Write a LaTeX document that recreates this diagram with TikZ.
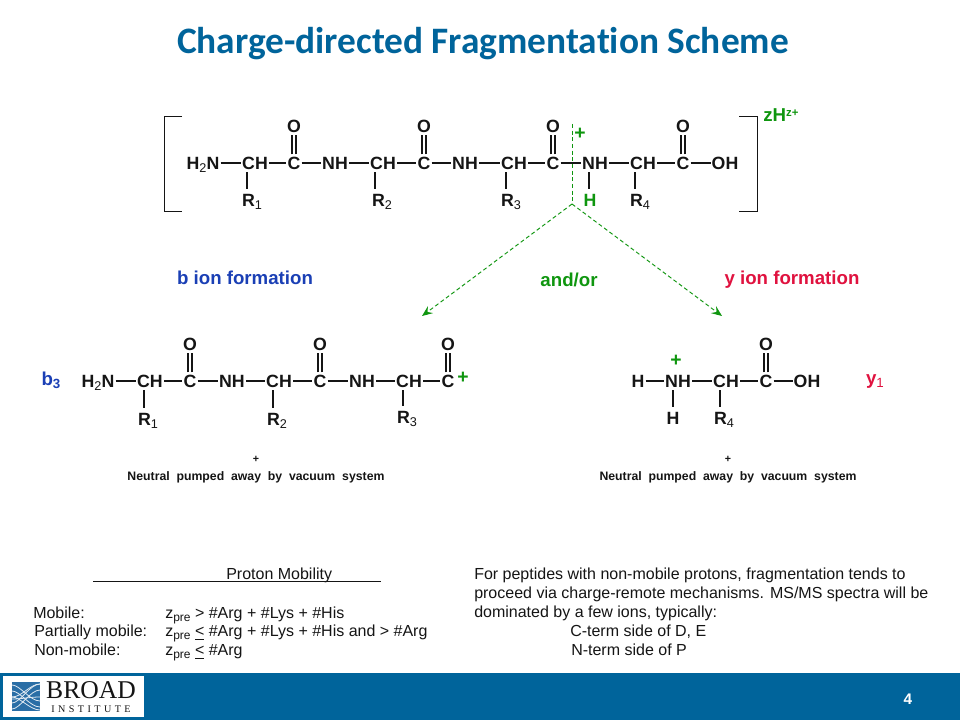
\documentclass[tikz,border=0pt]{standalone}
\usepackage{fontspec}
\setmainfont{Liberation Sans}
\newfontfamily\titlefont[Ligatures=CommonOff]{Carlito}
\newfontfamily\logofont{Liberation Serif}
\newfontfamily\logospaced[LetterSpace=34]{Liberation Serif}
\usetikzlibrary{arrows.meta}
\definecolor{brandblue}{HTML}{00649B}
\definecolor{logoblue}{HTML}{2A6EA6}
\definecolor{ionblue}{HTML}{1A3FB5}
\definecolor{iongreen}{HTML}{0F960F}
\definecolor{ionred}{HTML}{E0123F}
\definecolor{inkdark}{HTML}{151515}
\newcommand{\lowidx}[1]{\raisebox{-2.4pt}{\fontsize{9.5}{10}\selectfont\mdseries #1}}
\newcommand{\zpre}{z\raisebox{-2.2pt}{\fontsize{9}{10}\selectfont pre}}
\tikzset{
  atom/.style={font=\bfseries\fontsize{13.3}{15}\selectfont,inner sep=0pt,text height=9.5pt,text depth=0pt,text=inkdark},
  gatom/.style={atom,text=iongreen},
  bondline/.style={draw=inkdark,line width=0.8pt},
  chainbond/.style={bondline,shorten <=0.7pt,shorten >=0.7pt},
  cleave/.style={draw=iongreen,line width=0.7pt,dash pattern=on 3pt off 2pt},
  cleavearrow/.style={cleave,-{Stealth[length=8pt,width=6.5pt,inset=3pt]}},
  plusmark/.style={font=\bfseries\fontsize{14.5}{15}\selectfont,inner sep=0pt,text=iongreen},
  ionhead/.style={font=\bfseries\fontsize{14}{16}\selectfont,inner sep=0pt,anchor=center,text height=10pt,text depth=3pt},
  neutral/.style={font=\bfseries\fontsize{9.2}{11}\selectfont,inner sep=0pt,text=inkdark,text height=7pt,text depth=2pt},
  tinyplus/.style={font=\bfseries\fontsize{8}{9}\selectfont,inner sep=0pt,text=inkdark},
  bodytext/.style={font=\fontsize{12}{14}\selectfont,inner sep=0pt,anchor=west,text=inkdark,text height=8.6pt,text depth=2.4pt,yshift=-2.1pt},
}
\begin{document}
\begin{tikzpicture}[x=0.75pt,y=-0.75pt]
\useasboundingbox (0,0) rectangle (960,720);
\fill[white] (0,0) rectangle (960,720);
% footer
\fill[brandblue] (0,673) rectangle (960,720);
\fill[white] (3,676) rectangle (144,717);
\fill[logoblue] (12,682) rectangle (40,711);
\begin{scope}
\clip (12,682) rectangle (40,711);
\foreach \ya/\yb in {685/701,691/707,697/710,703/684,709/690}
  \draw[white!85!logoblue,line width=0.6pt] (12,\ya) .. controls (20,\ya) and (30,\yb) .. (40,\yb);
\foreach \ya/\yb in {697/684,699/697}
  \draw[white!85!logoblue,line width=0.6pt] (12,\ya) .. controls (22,\ya) and (30,\yb) .. (40,\yb);
\end{scope}
\node[inner sep=0pt,text=inkdark,font=\logofont\fontsize{19.2}{20}\selectfont] (logoword) at (91,690) {BROAD};
\node[inner sep=0pt,text=inkdark,font=\logospaced\fontsize{7.6}{8}\selectfont] (logosub) at (91,709) {INSTITUTE};
\node[inner sep=0pt,text=white,font=\bfseries\fontsize{11.5}{13}\selectfont] (pagenum) at (908,699) {4};
% title
\node[inner sep=0pt,text=brandblue,font=\titlefont\bfseries\fontsize{28}{32}\selectfont] (title) at (483,44) {Charge-directed Fragmentation Scheme};
% top peptide
\foreach \n/\x/\t in {t1/203/H\lowidx{2}N,t2/255/CH,t3/294/C,t4/335/NH,t5/383/CH,t6/424/C,t7/465/NH,t8/514/CH,t9/553/C,t10/595/NH,t11/643/CH,t12/683/C,t13/725/OH}
  \node[atom] (\n) at (\x,163) {\t};
\foreach \n/\x in {to1/294,to2/424,to3/553,to4/683}
  \node[atom] (\n) at (\x,126) {O};
\foreach \n/\x/\t in {tr1/252/1,tr2/382/2,tr3/511/3,tr4/640/4}
  \node[atom] (\n) at (\x,200) {R\lowidx{\t}};
\node[gatom] (tH) at (590,200) {H};
\foreach \u/\v in {t1/t2,t2/t3,t3/t4,t4/t5,t5/t6,t6/t7,t7/t8,t8/t9,t9/t10,t10/t11,t11/t12,t12/t13}
  \draw[chainbond] (\u) -- (\v);
\foreach \c/\o in {t3/to1,t6/to2,t9/to3,t12/to4}{
  \draw[bondline,shorten <=1.5pt,shorten >=2pt] ([xshift=-1.5pt]\c.north) -- ([xshift=-1.5pt]\o.south);
  \draw[bondline,shorten <=1.5pt,shorten >=2pt] ([xshift=1.5pt]\c.north) -- ([xshift=1.5pt]\o.south);
}
\foreach \c/\r in {t2/tr1,t5/tr2,t8/tr3,t11/tr4}
  \draw[bondline,shorten <=2pt,shorten >=3pt] ([xshift=-6pt]\c.south) -- ([xshift=-6pt]\c.south |- \r.north);
\draw[bondline,shorten <=2pt,shorten >=3pt] ([xshift=-4.5pt]t10.south) -- ([xshift=-4.5pt]t10.south |- tH.north);
% brackets
\draw[bondline,line width=0.75pt] (182,117) -- (164,117) -- (164,212) -- (182,212);
\draw[bondline,line width=0.75pt] (739,117) -- (757,117) -- (757,212) -- (739,212);
\node[inner sep=0pt,anchor=west,text=iongreen,font=\bfseries\fontsize{14}{16}\selectfont] (zh) at (763,115) {zH\raisebox{3.6pt}{\fontsize{8.5}{9}\selectfont z+}};
\node[plusmark] (tplus) at (580,134) {+};
% cleavage
\coordinate (cut) at (572,124);
\coordinate (apex) at (572,204);
\coordinate (bend) at (422,316);
\coordinate (yend) at (722,316);
\draw[cleave] (cut) -- (apex);
\draw[cleavearrow] (apex) -- (bend);
\draw[cleavearrow] (apex) -- (yend);
% headers
\node[ionhead,text=ionblue] (bhead) at (245,280) {b ion formation};
\node[ionhead,text=iongreen] (andor) at (569,282) {and/or};
\node[ionhead,text=ionred] (yhead) at (792,280) {y ion formation};
% b ion
\foreach \n/\x/\t in {b1/98/H\lowidx{2}N,b2/150/CH,b3/190/C,b4/232/NH,b5/279/CH,b6/320/C,b7/362/NH,b8/409/CH,b9/448/C}
  \node[atom] (\n) at (\x,381) {\t};
\foreach \n/\x in {bo1/190,bo2/320,bo3/448}
  \node[atom] (\n) at (\x,344) {O};
\foreach \n/\x/\y/\t in {br1/148/419/1,br2/277/419/2,br3/407/417/3}
  \node[atom] (\n) at (\x,\y) {R\lowidx{\t}};
\foreach \u/\v in {b1/b2,b2/b3,b3/b4,b4/b5,b5/b6,b6/b7,b7/b8,b8/b9}
  \draw[chainbond] (\u) -- (\v);
\foreach \c/\o in {b3/bo1,b6/bo2,b9/bo3}{
  \draw[bondline,shorten <=1.5pt,shorten >=2pt] ([xshift=-1.5pt]\c.north) -- ([xshift=-1.5pt]\o.south);
  \draw[bondline,shorten <=1.5pt,shorten >=2pt] ([xshift=1.5pt]\c.north) -- ([xshift=1.5pt]\o.south);
}
\foreach \c/\r in {b2/br1,b5/br2,b8/br3}
  \draw[bondline,shorten <=2pt,shorten >=3pt] ([xshift=-4.5pt]\c.south) -- ([xshift=-4.5pt]\c.south |- \r.north);
\node[plusmark] (bplus) at (463,378) {+};
\node[ionhead,text=ionblue] (blabel) at (51,381) {b\raisebox{-2.4pt}{\fontsize{10}{10}\selectfont 3}};
\node[tinyplus] (bp) at (256,459) {+};
\node[neutral] (bn) at (256,477) {Neutral\ \ pumped\ \ away\ \ by\ \ vacuum\ \ system};
% y ion
\node[atom] (y0) at (638,381) {H};
\foreach \n/\x/\t in {y1/678/NH,y2/726/CH,y3/766/C,y4/807/OH}
  \node[atom] (\n) at (\x,381) {\t};
\node[atom] (yo) at (766,344) {O};
\node[atom] (yH) at (673,418) {H};
\node[atom] (yr) at (724,418) {R\lowidx{4}};
\foreach \u/\v in {y0/y1,y1/y2,y2/y3,y3/y4}
  \draw[chainbond] (\u) -- (\v);
\draw[bondline,shorten <=1.5pt,shorten >=2pt] ([xshift=-1.5pt]y3.north) -- ([xshift=-1.5pt]yo.south);
\draw[bondline,shorten <=1.5pt,shorten >=2pt] ([xshift=1.5pt]y3.north) -- ([xshift=1.5pt]yo.south);
\draw[bondline,shorten <=2pt,shorten >=3pt] ([xshift=-3.75pt]y1.south) -- ([xshift=-3.75pt]y1.south |- yH.north);
\draw[bondline,shorten <=2pt,shorten >=3pt] ([xshift=-4.5pt]y2.south) -- ([xshift=-4.5pt]y2.south |- yr.north);
\node[plusmark] (yplus) at (676,361) {+};
\node[ionhead,text=ionred] (ylabel) at (875,380) {y\raisebox{-2.4pt}{\fontsize{10}{10}\selectfont\mdseries 1}};
\node[tinyplus] (yp) at (728,459) {+};
\node[neutral] (yn) at (728,477) {Neutral\ \ pumped\ \ away\ \ by\ \ vacuum\ \ system};
% proton mobility
\node[bodytext] (pm) at (226,573) {Proton Mobility};
\coordinate (ula) at (93,581);
\coordinate (ulb) at (381,581);
\draw[inkdark,line width=0.7pt] (ula) -- (ulb);
\node[bodytext] (m1) at (33,612) {Mobile:};
\node[bodytext] (m2) at (34,630) {Partially mobile:};
\node[bodytext] (m3) at (34,649) {Non-mobile:};
\node[bodytext] (f1) at (165,612) {\zpre{} > \#Arg + \#Lys + \#His};
\node[bodytext] (f2) at (165,630) {\zpre{} \underline{<} \#Arg + \#Lys + \#His and > \#Arg};
\node[bodytext] (f3) at (165,649) {\zpre{} \underline{<} \#Arg};
% right text
\node[bodytext] (r1) at (474,573) {For peptides with non-mobile protons, fragmentation tends to};
\node[bodytext] (r2) at (474,592) {proceed via charge-remote mechanisms. MS/MS spectra will be};
\node[bodytext] (r3) at (474,611) {dominated by a few ions, typically:};
\node[bodytext] (r4) at (570,630) {C-term side of D, E};
\node[bodytext] (r5) at (571,649) {N-term side of P};
\end{tikzpicture}
\end{document}
